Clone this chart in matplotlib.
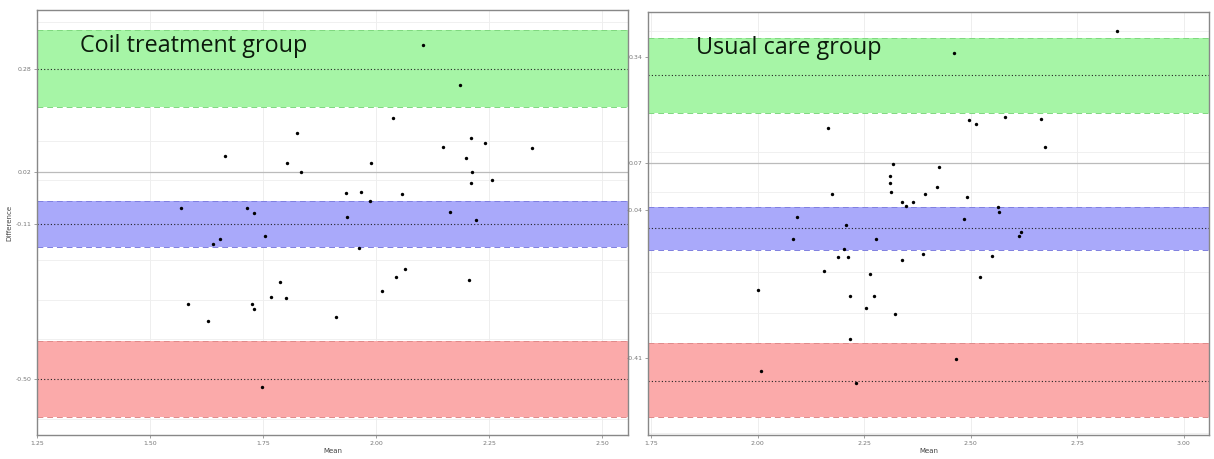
import matplotlib.pyplot as plt
import numpy as np

# Coil treatment group (mean, difference)
coil_mean = [2.104, 2.186, 2.038, 1.825, 2.210, 2.241, 2.148, 2.345, 1.666, 2.199,
             1.803, 1.989, 1.834, 2.212, 2.210, 2.257, 1.934, 1.967, 2.058, 1.987,
             1.569, 1.715, 1.730, 1.936, 2.164, 2.221, 1.754, 1.655, 1.639, 1.962,
             2.064, 2.044, 1.788, 2.206, 2.013, 1.768, 1.801, 1.584, 1.726, 1.730,
             1.628, 1.912, 1.748]
coil_diff = [0.341, 0.240, 0.157, 0.119, 0.107, 0.094, 0.084, 0.081, 0.061, 0.056,
             0.044, 0.044, 0.021, 0.021, -0.007, 0.001, -0.032, -0.029, -0.034, -0.052,
             -0.070, -0.070, -0.082, -0.092, -0.080, -0.100, -0.140, -0.148, -0.160, -0.170,
             -0.223, -0.244, -0.256, -0.251, -0.279, -0.294, -0.296, -0.312, -0.312, -0.324,
             -0.354, -0.344, -0.521]

# Usual care group (mean, difference)
care_mean = [2.843, 2.461, 2.496, 2.512, 2.580, 2.665, 2.165, 2.674, 2.318, 2.425,
             2.311, 2.311, 2.421, 2.174, 2.313, 2.393, 2.491, 2.339, 2.348, 2.364,
             2.564, 2.566, 2.092, 2.484, 2.207, 2.618, 2.613, 2.083, 2.278, 2.203,
             2.189, 2.212, 2.388, 2.550, 2.339, 2.156, 2.264, 2.522, 2.001, 2.217,
             2.273, 2.254, 2.322, 2.217, 2.465, 2.008, 2.231]
care_diff = [0.399, 0.345, 0.178, 0.168, 0.186, 0.181, 0.158, 0.111, 0.069, 0.062,
             0.039, 0.022, 0.012, -0.006, -0.001, -0.006, -0.013, -0.025, -0.035, -0.025,
             -0.038, -0.050, -0.063, -0.068, -0.083, -0.100, -0.110, -0.117, -0.117, -0.142,
             -0.162, -0.162, -0.155, -0.160, -0.169, -0.197, -0.204, -0.212, -0.244, -0.259,
             -0.259, -0.289, -0.304, -0.366, -0.415, -0.445, -0.475]

# bias and limits of agreement with their confidence bands
coil_lines = [0.28, -0.11, -0.50]
coil_bands = [(0.185, 0.379), (-0.168, -0.052), (-0.596, -0.405)]
care_lines = [0.29, -0.09, -0.47]
care_bands = [(0.196, 0.382), (-0.145, -0.038), (-0.559, -0.376)]

coil_yticks = [0.28, 0.02, -0.11, -0.50]
care_yticks = [0.335, 0.071, -0.045, -0.413]
coil_xticks = [1.25, 1.50, 1.75, 2.00, 2.25, 2.50]
care_xticks = [1.75, 2.00, 2.25, 2.50, 2.75, 3.00]

band_colors = ["#a6f5a6", "#a9a9fa", "#fbaaaa"]
edge_colors = ["#7fd87f", "#7f7fe0", "#e08a8a"]

fig = plt.figure(figsize=(12.14, 4.59), dpi=100)
ax1 = fig.add_axes([0.0305, 0.0523, 0.4868, 0.9259])
ax2 = fig.add_axes([0.5338, 0.0523, 0.4621, 0.9216])


def draw_panel(ax, xs, ys, lines, bands, yticks, xticks, xlim, ylim, zero, title, tx):
    ax.set_xlim(*xlim)
    ax.set_ylim(*ylim)
    # faint background grid
    for g in np.arange(-0.6, 0.45, 0.1):
        ax.axhline(g, color="#f0f0f0", lw=0.7, zorder=0)
    for g in xticks:
        ax.axvline(g, color="#eeeeee", lw=0.7, zorder=0)
    ax.axhline(zero, color="#bbbbbb", lw=0.9, zorder=0.5)
    for (lo, hi), c, ec in zip(bands, band_colors, edge_colors):
        ax.axhspan(lo, hi, color=c, lw=0, zorder=1)
        ax.axhline(lo, color=ec, lw=0.7, ls=(0, (6, 4)), zorder=1.2)
        ax.axhline(hi, color=ec, lw=0.7, ls=(0, (6, 4)), zorder=1.2)
    for v in lines:
        ax.axhline(v, color="#222222", lw=0.8, ls=(0, (1, 2)), zorder=2)
    ax.scatter(xs, ys, s=6, color="black", zorder=3, linewidths=0)
    ax.set_yticks(yticks)
    ax.set_yticklabels(["%.2f" % t for t in yticks])
    ax.set_xticks(xticks)
    ax.set_xticklabels(["%.2f" % t for t in xticks])
    ax.tick_params(labelsize=4.5, colors="#777777", length=2, width=0.5, pad=2)
    for s in ax.spines.values():
        s.set_color("#888888")
        s.set_linewidth(1)
    ax.set_xlabel("Mean", fontsize=5, color="#444444", labelpad=2)
    ax.text(tx, 0.915, title, transform=ax.transAxes, fontsize=16.8,
            family="Open Sans", color="#0c1a0c", va="center", ha="left", zorder=4)


draw_panel(ax1, coil_mean, coil_diff, coil_lines, coil_bands, coil_yticks, coil_xticks,
           (1.25, 2.557), (-0.641, 0.429), 0.02, "Coil treatment group", 0.072)
ax1.set_ylabel("Difference", fontsize=5, color="#444444", labelpad=2)

draw_panel(ax2, care_mean, care_diff, care_lines, care_bands, care_yticks, care_xticks,
           (1.743, 3.059), (-0.604, 0.447), 0.071, "Usual care group", 0.086)

fig.savefig("out.png", dpi=100)
